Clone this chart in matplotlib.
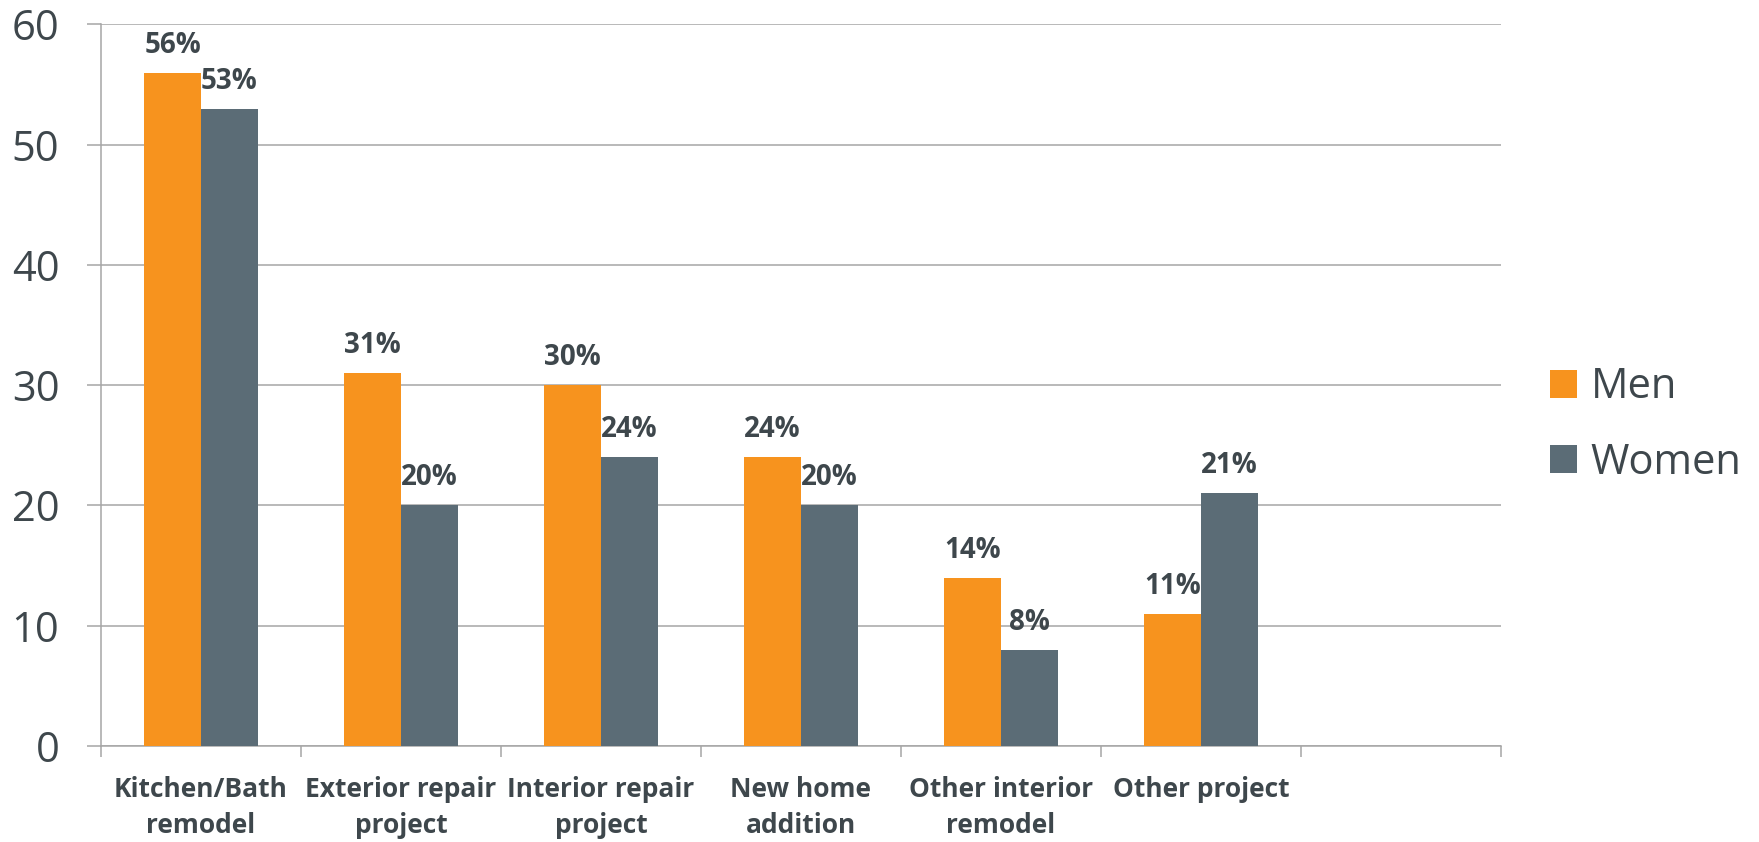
import numpy as np
import matplotlib
matplotlib.use('Agg')
import matplotlib.pyplot as plt

# data
categories = ['Kitchen/Bath\nremodel', 'Exterior repair\nproject', 'Interior repair\nproject',
              'New home\naddition', 'Other interior\nremodel', 'Other project', '']
men = [56, 31, 30, 24, 14, 11]
women = [53, 20, 24, 20, 8, 21]
yticks = [0, 10, 20, 30, 40, 50, 60]

orange = '#F7931E'
slate = '#5B6C76'
txt = '#3E474C'
grid = '#A6A6A6'

plt.rcParams['font.family'] = ['Open Sans', 'DejaVu Sans']

fig = plt.figure(figsize=(17.59, 8.42), dpi=100)
ax = fig.add_axes([101/1759, 1 - 746/842, 1400/1759, (746 - 24.5)/842])

w = 0.285
x = np.arange(len(men))
b1 = ax.bar(x - w/2, men, w, color=orange, label='Men', zorder=3)
b2 = ax.bar(x + w/2, women, w, color=slate, label='Women', zorder=3)

for bars, vals in ((b1, men), (b2, women)):
    for bar, v in zip(bars, vals):
        ax.annotate('{}%'.format(v), (bar.get_x() + bar.get_width()/2, v),
                    xytext=(0, 14.4), textcoords='offset points',
                    ha='center', va='baseline', fontsize=20, fontweight='bold', color=txt)

ax.set_xlim(-0.5, len(categories) - 0.5)
ax.set_ylim(0, 60)
ax.set_yticks(yticks)
ax.yaxis.grid(True, color=grid, linewidth=1.1, zorder=0)
ax.tick_params(axis='y', length=10, width=1.1, color=grid, labelsize=30, labelcolor=txt, pad=20)

ax.set_xticks(np.arange(len(categories)))
ax.set_xticklabels(categories, fontsize=19, fontweight='bold', color=txt, linespacing=1.42)
ax.set_xticks(np.arange(len(categories) + 1) - 0.5, minor=True)
ax.tick_params(axis='x', which='major', length=0, pad=21.5)
ax.tick_params(axis='x', which='minor', length=8, width=1.1, color=grid)

for s in ('top', 'right'):
    ax.spines[s].set_visible(False)
for s in ('left', 'bottom'):
    ax.spines[s].set_color(grid)
    ax.spines[s].set_linewidth(1.1)

leg = fig.legend(handles=[b1, b2], labels=['Men', 'Women'], loc='center left',
                 bbox_to_anchor=(1550/1759, 1 - 425/842), frameon=False,
                 fontsize=30, handlelength=0.65, handleheight=0.65, handletextpad=0.32,
                 labelspacing=0.8, borderpad=0, borderaxespad=0)
for t in leg.get_texts():
    t.set_color(txt)

plt.savefig('out.png', dpi=100)
